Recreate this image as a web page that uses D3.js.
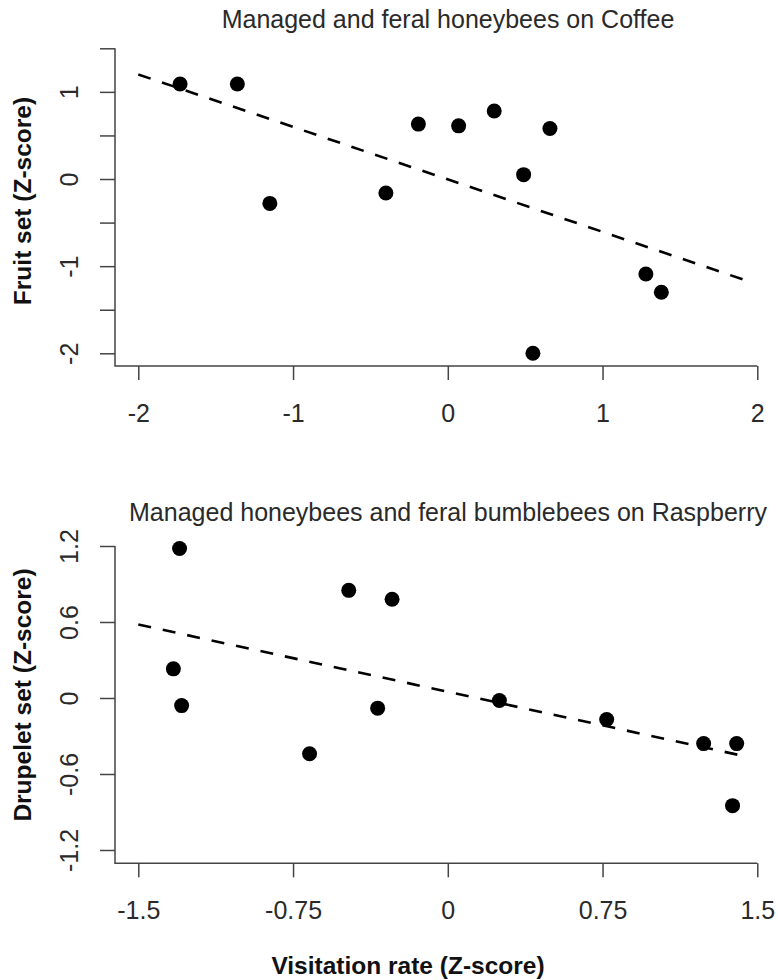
<!DOCTYPE html>
<html>
<head>
<meta charset="UTF-8">
<title>Visitation rate vs fruit set</title>
<script src="https://d3js.org/d3.v7.min.js"></script>
<style>
  body { margin: 0; background: #fff; }
  svg text { font-family: "Liberation Sans", Arial, sans-serif; }
  .tick line { stroke: #444; stroke-width: 1.5px; }
  .tick text { font-size: 25px; fill: #2a2a2a; }
  .frame { fill: none; stroke: #444; stroke-width: 1.5px; }
  .fit { fill: none; stroke: #000; stroke-width: 2.6px; stroke-dasharray: 13,12; }
  .title { font-size: 25px; fill: #2a2a2a; text-anchor: middle; }
  .lab { font-size: 24.5px; font-weight: bold; fill: #111; text-anchor: middle; }
</style>
</head>
<body>
<div id="chart"></div>
<script>
// coffee panel (managed + feral honeybees)
const coffeeX = [-1.73, -1.36, -1.15, -0.40, -0.19, 0.07, 0.30, 0.66, 0.49, 1.28, 1.38, 0.55];
const coffeeY = [1.09, 1.09, -0.28, -0.16, 0.63, 0.61, 0.78, 0.58, 0.05, -1.09, -1.30, -2.00];
const coffeeFitX = [-2, 1.92];
const coffeeFitY = [1.20, -1.16];
const coffeeXTicks = [-2, -1, 0, 1, 2];
const coffeeYTicks = [-2, -1.5, -1, -0.5, 0, 0.5, 1, 1.5];
const coffeeYLabels = ["-2", "", "-1", "", "0", "", "1", ""];

// raspberry panel (managed honeybees + feral bumblebees)
const raspX = [-1.30, -0.48, -0.27, -1.33, -1.29, -0.34, -0.67, 0.25, 0.77, 1.24, 1.40, 1.38];
const raspY = [1.18, 0.85, 0.78, 0.23, -0.06, -0.08, -0.44, -0.02, -0.17, -0.36, -0.36, -0.85];
const raspFitX = [-1.5, 1.44];
const raspFitY = [0.58, -0.46];
const raspXTicks = [-1.5, -0.75, 0, 0.75, 1.5];
const raspXLabels = ["-1.5", "-0.75", "0", "0.75", "1.5"];
const raspYTicks = [-1.2, -0.6, 0, 0.6, 1.2];
const raspYLabels = ["-1.2", "-0.6", "0", "0.6", "1.2"];

const width = 778, height = 980;
const svg = d3.select("#chart").append("svg")
    .attr("width", width)
    .attr("height", height);

function panel(opt) {
    const g = svg.append("g");
    const x = d3.scaleLinear().domain(opt.xDomain).range([138.3, 757.3]);
    const y = d3.scaleLinear().domain(opt.yDomain).range(opt.yRange);

    // title
    g.append("text").attr("class", "title")
        .attr("x", 448).attr("y", opt.titleY)
        .text(opt.title);

    // L shaped frame
    g.append("path").attr("class", "frame")
        .attr("d", `M115,${opt.frameTop}V${opt.frameBottom}H757.3`);

    // x axis
    const xa = g.append("g")
        .attr("transform", `translate(0,${opt.frameBottom})`)
        .call(d3.axisBottom(x).tickValues(opt.xTicks).tickSize(14)
            .tickFormat((d, i) => opt.xLabels[i]));
    xa.select(".domain").remove();
    xa.selectAll(".tick text").attr("y", 56).attr("dy", 0);

    // y axis
    const ya = g.append("g")
        .attr("transform", "translate(115,0)")
        .call(d3.axisLeft(y).tickValues(opt.yTicks).tickSize(15)
            .tickFormat((d, i) => opt.yLabels[i]));
    ya.select(".domain").remove();
    ya.selectAll(".tick text")
        .attr("x", 0).attr("dy", 0)
        .attr("text-anchor", "middle")
        .attr("transform", "translate(-37,0) rotate(-90)");

    // y label
    g.append("text").attr("class", "lab")
        .attr("transform", `translate(31,${opt.yLabelMid}) rotate(-90)`)
        .text(opt.yLabel);

    // fitted line
    g.append("path").attr("class", "fit")
        .datum(d3.zip(opt.fitX, opt.fitY))
        .attr("d", d3.line().x(d => x(d[0])).y(d => y(d[1])));

    // points
    g.selectAll("circle")
        .data(d3.zip(opt.px, opt.py))
        .enter()
        .append("circle")
        .attr("cx", d => x(d[0]))
        .attr("cy", d => y(d[1]))
        .attr("r", 7.5)
        .attr("fill", "#000");
}

panel({
    title: "Managed and feral honeybees on Coffee", titleY: 28,
    xDomain: [-2, 2], yDomain: [-2, 1.5], yRange: [353.3, 48.3],
    frameTop: 48.3, frameBottom: 366,
    xTicks: coffeeXTicks, xLabels: coffeeXTicks.map(String),
    yTicks: coffeeYTicks, yLabels: coffeeYLabels,
    yLabel: "Fruit set (Z-score)", yLabelMid: 201,
    fitX: coffeeFitX, fitY: coffeeFitY, px: coffeeX, py: coffeeY
});

panel({
    title: "Managed honeybees and feral bumblebees on Raspberry", titleY: 521,
    xDomain: [-1.5, 1.5], yDomain: [-1.2, 1.2], yRange: [850, 546],
    frameTop: 546, frameBottom: 863.3,
    xTicks: raspXTicks, xLabels: raspXLabels,
    yTicks: raspYTicks, yLabels: raspYLabels,
    yLabel: "Drupelet set (Z-score)", yLabelMid: 695,
    fitX: raspFitX, fitY: raspFitY, px: raspX, py: raspY
});

svg.append("text").attr("class", "lab")
    .attr("x", 408).attr("y", 974)
    .text("Visitation rate (Z-score)");
</script>
</body>
</html>
